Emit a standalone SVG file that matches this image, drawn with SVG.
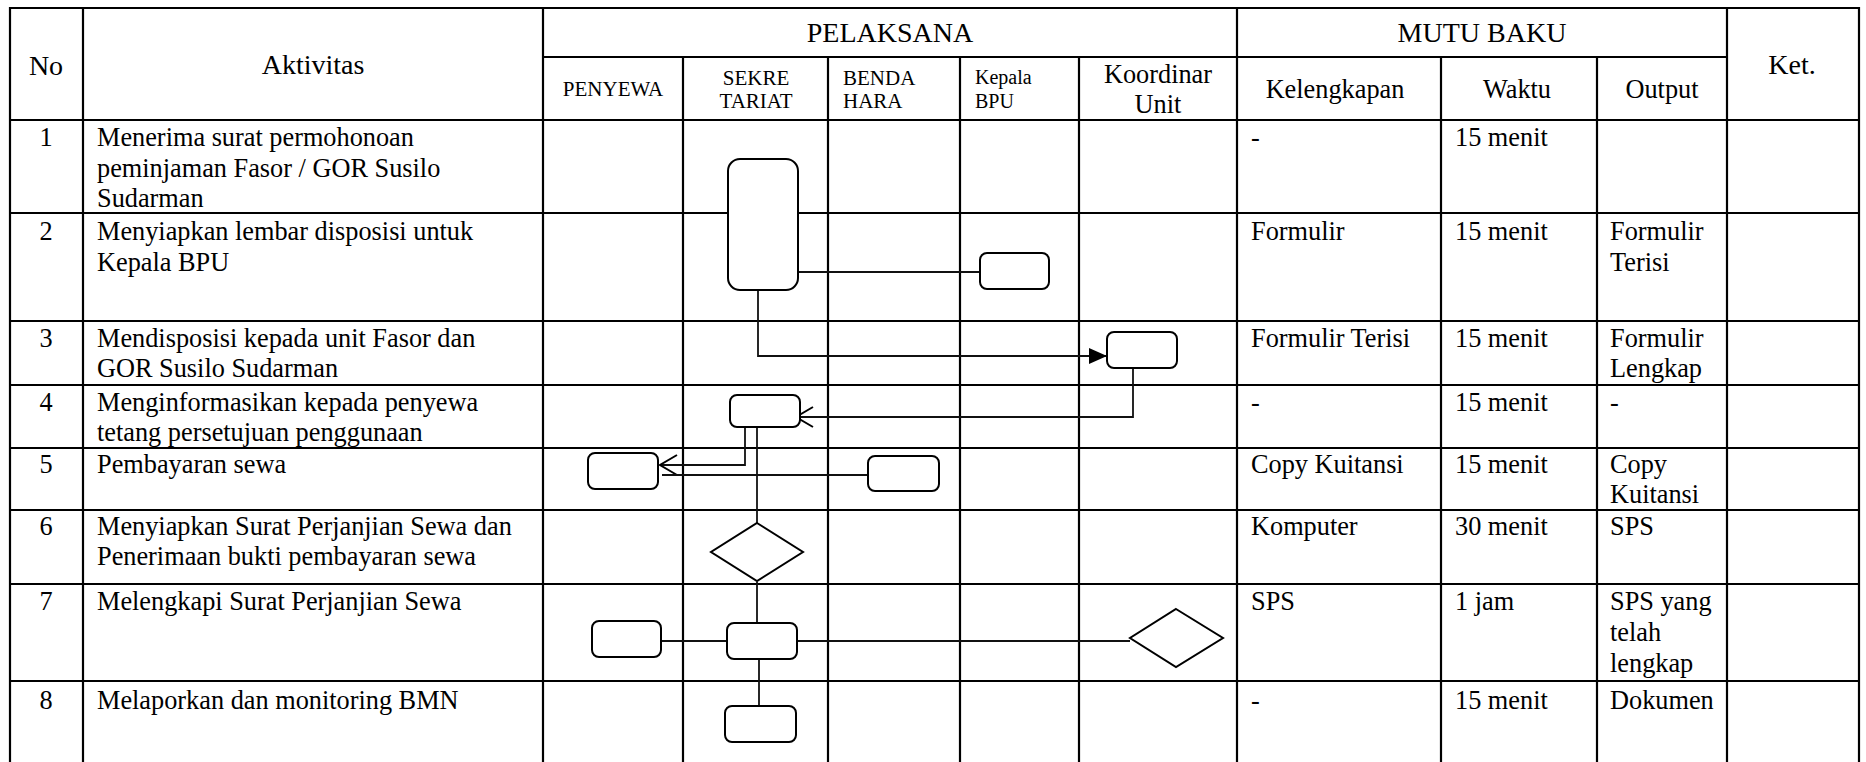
<svg xmlns="http://www.w3.org/2000/svg" width="1866" height="762" viewBox="0 0 1866 762">
<style>
text{font-family:"Liberation Serif","Times New Roman",serif;fill:#000}
.b{font-size:26.3px}
.h{font-size:28px}
.s{font-size:21px}
.k{font-size:20px}
.c{text-anchor:middle}
.grid line{stroke:#000;stroke-width:2.2}
.node rect,.node polygon{fill:#fff;stroke:#000;stroke-width:2}
.conn path{fill:none;stroke:#111;stroke-width:1.8}
</style>
<defs>
<marker id="af" markerUnits="userSpaceOnUse" markerWidth="18" markerHeight="18" viewBox="0 0 18 18" refX="18" refY="9" orient="auto"><path d="M0,1 L18,9 L0,17 Z" fill="#000"/></marker>
<marker id="ao" markerUnits="userSpaceOnUse" markerWidth="22" markerHeight="24" viewBox="0 0 22 24" refX="19" refY="12" orient="auto"><path d="M2,2 L19,12 L2,22" fill="none" stroke="#000" stroke-width="2"/></marker>
</defs>
<rect width="1866" height="762" fill="#fff"/>
<g class="grid">
<line x1="9" y1="8" x2="1860" y2="8"/>
<line x1="543" y1="57" x2="1727" y2="57"/>
<line x1="9" y1="120" x2="1860" y2="120"/>
<line x1="9" y1="213" x2="1860" y2="213"/>
<line x1="9" y1="321" x2="1860" y2="321"/>
<line x1="9" y1="385" x2="1860" y2="385"/>
<line x1="9" y1="448" x2="1860" y2="448"/>
<line x1="9" y1="510" x2="1860" y2="510"/>
<line x1="9" y1="584" x2="1860" y2="584"/>
<line x1="9" y1="681" x2="1860" y2="681"/>
<line x1="10" y1="7" x2="10" y2="762"/>
<line x1="83" y1="7" x2="83" y2="762"/>
<line x1="543" y1="7" x2="543" y2="762"/>
<line x1="683" y1="57" x2="683" y2="762"/>
<line x1="828" y1="57" x2="828" y2="762"/>
<line x1="960" y1="57" x2="960" y2="762"/>
<line x1="1079" y1="57" x2="1079" y2="762"/>
<line x1="1237" y1="7" x2="1237" y2="762"/>
<line x1="1441" y1="57" x2="1441" y2="762"/>
<line x1="1597" y1="57" x2="1597" y2="762"/>
<line x1="1727" y1="7" x2="1727" y2="762"/>
<line x1="1859" y1="7" x2="1859" y2="762"/>
</g>
<g id="header">
<text class="h c" x="46" y="75">No</text>
<text class="h c" x="313" y="74">Aktivitas</text>
<text class="h c" x="890" y="42">PELAKSANA</text>
<text class="h c" x="1482" y="42">MUTU BAKU</text>
<text class="h c" x="1792" y="74">Ket.</text>
<text class="s c" x="613" y="96">PENYEWA</text>
<text class="s c" x="756" y="85">SEKRE</text>
<text class="s c" x="756" y="108">TARIAT</text>
<text class="s" x="843" y="85">BENDA</text>
<text class="s" x="843" y="108">HARA</text>
<text class="k" x="975" y="84">Kepala</text>
<text class="k" x="975" y="108">BPU</text>
<text class="b c" x="1158" y="83">Koordinar</text>
<text class="b c" x="1158" y="113">Unit</text>
<text class="b c" x="1335" y="98">Kelengkapan</text>
<text class="b c" x="1517" y="98">Waktu</text>
<text class="b c" x="1662" y="98">Output</text>
</g>
<g id="rows" class="b">
<text class="c" x="46" y="146">1</text>
<text x="97" y="146">Menerima surat permohonoan</text>
<text x="97" y="177">peminjaman Fasor / GOR Susilo</text>
<text x="97" y="207">Sudarman</text>
<text x="1251" y="146">-</text>
<text x="1455" y="146">15 menit</text>

<text class="c" x="46" y="240">2</text>
<text x="97" y="240">Menyiapkan lembar disposisi untuk</text>
<text x="97" y="271">Kepala BPU</text>
<text x="1251" y="240">Formulir</text>
<text x="1455" y="240">15 menit</text>
<text x="1610" y="240">Formulir</text>
<text x="1610" y="271">Terisi</text>

<text class="c" x="46" y="347">3</text>
<text x="97" y="347">Mendisposisi kepada unit Fasor dan</text>
<text x="97" y="377">GOR Susilo Sudarman</text>
<text x="1251" y="347">Formulir Terisi</text>
<text x="1455" y="347">15 menit</text>
<text x="1610" y="347">Formulir</text>
<text x="1610" y="377">Lengkap</text>

<text class="c" x="46" y="411">4</text>
<text x="97" y="411">Menginformasikan kepada penyewa</text>
<text x="97" y="441">tetang persetujuan penggunaan</text>
<text x="1251" y="411">-</text>
<text x="1455" y="411">15 menit</text>
<text x="1610" y="411">-</text>

<text class="c" x="46" y="473">5</text>
<text x="97" y="473">Pembayaran sewa</text>
<text x="1251" y="473">Copy Kuitansi</text>
<text x="1455" y="473">15 menit</text>
<text x="1610" y="473">Copy</text>
<text x="1610" y="503">Kuitansi</text>

<text class="c" x="46" y="535">6</text>
<text x="97" y="535">Menyiapkan Surat Perjanjian Sewa dan</text>
<text x="97" y="565">Penerimaan bukti pembayaran sewa</text>
<text x="1251" y="535">Komputer</text>
<text x="1455" y="535">30 menit</text>
<text x="1610" y="535">SPS</text>

<text class="c" x="46" y="610">7</text>
<text x="97" y="610">Melengkapi Surat Perjanjian Sewa</text>
<text x="1251" y="610">SPS</text>
<text x="1455" y="610">1 jam</text>
<text x="1610" y="610">SPS yang</text>
<text x="1610" y="641">telah</text>
<text x="1610" y="672">lengkap</text>

<text class="c" x="46" y="709">8</text>
<text x="97" y="709">Melaporkan dan monitoring BMN</text>
<text x="1251" y="709">-</text>
<text x="1455" y="709">15 menit</text>
<text x="1610" y="709">Dokumen</text>
</g>
<g id="connectors" class="conn">
<path d="M798,272 H980"/>
<path d="M758,290 V356 H1107" marker-end="url(#af)"/>
<path d="M1133,368 V417 H796" marker-end="url(#ao)"/>
<path d="M745,427 V465 H660" marker-end="url(#ao)"/>
<path d="M868,475 H662"/>
<path d="M757,427 V523"/>
<path d="M757,582 V623"/>
<path d="M661,641 H727"/>
<path d="M797,641 H1130"/>
<path d="M759,659 V706"/>
</g>
<g id="n1" class="node"><rect x="728" y="159" width="70" height="131" rx="12"/></g>
<g id="n2" class="node"><rect x="980" y="253" width="69" height="36" rx="7"/></g>
<g id="n3" class="node"><rect x="1107" y="332" width="70" height="36" rx="7"/></g>
<g id="n4" class="node"><rect x="730" y="395" width="70" height="32" rx="7"/></g>
<g id="n5a" class="node"><rect x="588" y="453" width="70" height="36" rx="7"/></g>
<g id="n5b" class="node"><rect x="868" y="456" width="71" height="35" rx="7"/></g>
<g id="n6" class="node"><polygon points="757,523 803,552 757,581 711,552"/></g>
<g id="n7a" class="node"><rect x="592" y="621" width="69" height="36" rx="7"/></g>
<g id="n7b" class="node"><rect x="727" y="623" width="70" height="36" rx="7"/></g>
<g id="n7c" class="node"><polygon points="1176,609 1223,638 1176,667 1130,638"/></g>
<g id="n8" class="node"><rect x="725" y="706" width="71" height="36" rx="7"/></g>
</svg>
